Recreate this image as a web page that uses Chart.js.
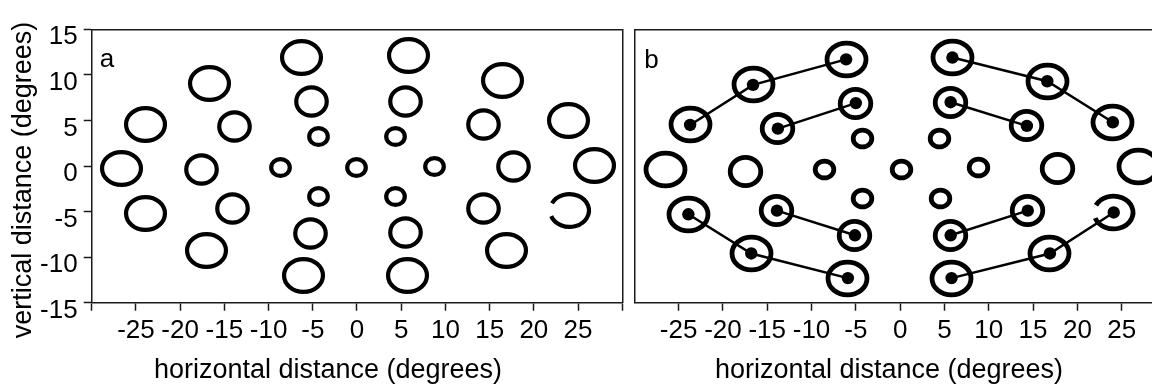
<!DOCTYPE html>
<html>
<head>
<meta charset="utf-8">
<script src="https://cdn.jsdelivr.net/npm/chart.js@4.4.1/dist/chart.umd.min.js"></script>
<style>
  html, body { margin: 0; padding: 0; background: #fff; }
  body { position: relative; width: 1152px; height: 385px; overflow: hidden; }
  #panelA { position: absolute; left: 0; top: -25px; }
  #panelB { position: absolute; left: 612px; top: 0; }
</style>
</head>
<body>
<canvas id="panelA" width="656" height="410"></canvas>
<canvas id="panelB" width="554" height="385"></canvas>
<script>
// ---- Stimulus layout, panel a: ring centres (degrees) and size class ----
const aX = [-6.3, -16.7, -23.9, -13.9, -26.6, -17.6, -8.7, -5.2, -4.4, -0.1, 5.8, 5.5, 4.3, 8.8, 16.5, 14.3, 23.9, 17.7, 26.9, -23.9, -14.1, -17.0, -6.0, -5.3, -4.4, 4.4, 5.5, 5.7, 14.3, 16.9, 24.0];
const aY = [11.9, 9.1, 4.6, 4.3, -0.3, -0.4, -0.2, 7.1, 3.2, -0.2, 12.1, 7.1, 3.2, 0.0, 9.4, 4.6, 5.0, -0.1, 0.1, -5.2, -4.7, -9.3, -12.0, -7.4, -3.4, -3.4, -7.3, -12.0, -4.7, -9.3, -4.9];
const aSize = ['L','L','L','M','L','M','S','M','S','S','L','M','S','S','L','M','L','M','L','L','M','L','L','M','S','S','M','L','M','L','L'];
const aOpen = [30];

// ---- Panel b: ring centres, size class, and the linked target paths ----
const bX = [-6.1, -16.6, -23.7, -13.8, -5.0, -4.3, -26.5, -17.4, -8.5, 5.9, 16.6, 24.0, 5.7, 14.3, 4.4, 0.1, 8.8, 17.8, 26.9, -23.9, -13.9, -16.8, -5.1, -5.9, -4.3, 4.5, 5.7, 5.8, 14.4, 16.9, 24.1];
const bY = [11.7, 8.9, 4.5, 4.1, 6.9, 3.0, -0.4, -0.6, -0.4, 11.9, 9.3, 4.8, 7.0, 4.4, 3.0, -0.4, -0.2, -0.3, 0.0, -5.3, -4.9, -9.6, -7.6, -12.3, -3.6, -3.6, -7.6, -12.3, -4.9, -9.6, -5.1];
const bSize = ['L','L','L','M','M','S','L','M','S','L','L','L','M','M','S','S','S','M','L','L','M','L','M','L','S','S','M','L','M','L','L'];
const bOpen = [30];
const bPaths = [[0, 1, 2], [4, 3], [9, 10, 11], [12, 13], [19, 21, 23], [20, 22], [27, 29, 30], [26, 28]];

// Ring extent (degrees) per size class
const sizeW = { S: 2.1, M: 3.45, L: 4.4 };
const sizeH = { S: 1.85, M: 3.1, L: 3.6 };

// Axis tick labels
const xTickLabels = [-25, -20, -15, -10, -5, 0, 5, 10, 15, 20, 25];
const yTickLabels = [-15, -10, -5, 0, 5, 10, 15];

// ---- Drawing helpers ----
const FONT = '"Liberation Sans", Arial, Helvetica, sans-serif';
Chart.defaults.font.family = FONT;
Chart.defaults.color = '#000';
const AXIS = '#1a1a1a';
const GAP_FROM = 160, GAP_TO = 206;   // opening of the broken ring (canvas degrees)

const ringCache = new Map();
function ringImage(wPx, hPx, lw, open) {
  const key = wPx.toFixed(2) + '|' + hPx.toFixed(2) + '|' + lw + '|' + (open ? 1 : 0);
  if (ringCache.has(key)) return ringCache.get(key);
  const pad = Math.ceil(lw / 2) + 2;
  const c = document.createElement('canvas');
  c.width = Math.ceil(wPx) + 2 * pad;
  c.height = Math.ceil(hPx) + 2 * pad;
  const g = c.getContext('2d');
  g.strokeStyle = '#000';
  g.lineWidth = lw;
  g.beginPath();
  const a0 = open ? GAP_TO * Math.PI / 180 : 0;
  const a1 = open ? (GAP_FROM + 360) * Math.PI / 180 : 2 * Math.PI;
  g.ellipse(c.width / 2, c.height / 2, wPx / 2, hPx / 2, 0, a0, a1);
  g.stroke();
  ringCache.set(key, c);
  return c;
}

// Ring outline scaled from degrees to pixels through the chart's own scales
function ringStyle(lw) {
  return (ctx) => {
    if (ctx.type !== 'data' || !ctx.raw) return 'circle';
    const sx = ctx.chart.scales.x, sy = ctx.chart.scales.y;
    const kx = Math.abs(sx.getPixelForValue(1) - sx.getPixelForValue(0));
    const ky = Math.abs(sy.getPixelForValue(1) - sy.getPixelForValue(0));
    const r = ctx.raw;
    return ringImage(sizeW[r.size] * kx, sizeH[r.size] * ky, lw, r.open);
  };
}

function ringPoints(xs, ys, sizes, open) {
  return xs.map((x, i) => ({ x, y: ys[i], size: sizes[i], open: open.includes(i) }));
}

// Panel letter in the upper-left corner of the plot area; keeps ring
// sprites sharp when they land on sub-pixel positions.
const panelLetter = {
  id: 'panelLetter',
  beforeDatasetsDraw(chart) {
    chart.ctx.imageSmoothingEnabled = false;
  },
  afterDatasetsDraw(chart) {
    chart.ctx.imageSmoothingEnabled = true;
  },
  afterDraw(chart, args, opts) {
    const { ctx, chartArea } = chart;
    ctx.save();
    ctx.font = '26px ' + FONT;
    ctx.fillStyle = '#000';
    ctx.textBaseline = 'alphabetic';
    ctx.fillText(opts.text, chartArea.left + opts.dx, chartArea.top + opts.dy);
    ctx.restore();
  }
};

// Fix an axis box size and drop the edge padding reserved for labels
const fixed = (prop, px) => (scale) => {
  scale[prop] = px;
  scale.paddingLeft = 0; scale.paddingRight = 0;
  scale.paddingTop = 0; scale.paddingBottom = 0;
};

function xAxis(height, hideFirstTick) {
  return {
    type: 'linear', position: 'bottom', min: -30, max: 30,
    afterFit: fixed('height', height),
    border: { display: true, color: AXIS, width: 1.5 },
    grid: {
      drawOnChartArea: false, drawTicks: true, tickLength: 8, tickWidth: 1.5,
      tickColor: (c) => (hideFirstTick && c.tick && c.tick.value === -30) ? 'rgba(0,0,0,0)' : AXIS
    },
    ticks: {
      stepSize: 5, autoSkip: false, maxRotation: 0, minRotation: 0, padding: 5,
      color: '#000', font: { size: 26 },
      callback: (v) => xTickLabels.includes(v) ? String(v) : ''
    }
  };
}

function frameAxis(position, prop, px) {
  return {
    type: 'linear', position,
    afterFit: fixed(prop, px),
    border: { display: true, color: AXIS, width: 1.5 },
    grid: { drawOnChartArea: false, drawTicks: false },
    ticks: { display: false }
  };
}

const common = {
  responsive: false,
  animation: false,
  events: [],
  layout: { padding: 0, autoPadding: false }
};

// ---- Panel a ----
new Chart(document.getElementById('panelA'), {
  type: 'scatter',
  data: {
    datasets: [{
      data: ringPoints(aX, aY, aSize, aOpen),
      pointStyle: ringStyle(4.2),
      pointRadius: 12,
      clip: false
    }]
  },
  options: Object.assign({}, common, {
    scales: {
      x: xAxis(52.6, false),
      y: {
        type: 'linear', position: 'left', min: -15, max: 15,
        afterFit: fixed('width', 51.9),
        border: { display: true, color: AXIS, width: 1.5 },
        grid: { drawOnChartArea: false, drawTicks: true, tickLength: 8, tickWidth: 1.5, tickColor: AXIS },
        ticks: {
          stepSize: 5, padding: 6, labelOffset: 8, color: '#000', font: { size: 26 },
          callback: (v) => yTickLabels.includes(v) ? String(v) : ''
        }
      },
      x2: frameAxis('top', 'height', 54.3),
      y2: frameAxis('right', 'width', 33.7)
    },
    plugins: {
      legend: { display: false },
      tooltip: { enabled: false },
      title: {
        display: true, position: 'left', text: 'vertical distance (degrees)',
        color: '#000', font: { size: 27, weight: 'normal' },
        padding: { top: 7.4, bottom: 0 }
      },
      subtitle: {
        display: true, position: 'bottom', text: 'horizontal distance (degrees)',
        color: '#000', font: { size: 27, weight: 'normal', lineHeight: 1.1 },
        padding: 0
      },
      panelLetter: { text: 'a', dx: 8, dy: 38 }
    }
  }),
  plugins: [panelLetter]
});

// ---- Panel b ----
const bRings = ringPoints(bX, bY, bSize, bOpen);
const pathSets = bPaths.map((path) => ({
  type: 'scatter',
  showLine: true,
  data: path.map((i) => ({ x: bX[i], y: bY[i] })),
  borderColor: '#000',
  borderWidth: 2.5,
  pointStyle: 'circle',
  pointRadius: 6.2,
  pointBorderWidth: 0,
  pointBackgroundColor: '#000',
  clip: false
}));

new Chart(document.getElementById('panelB'), {
  type: 'scatter',
  data: {
    datasets: [{
      data: bRings,
      pointStyle: ringStyle(4.8),
      pointRadius: 12,
      clip: false
    }].concat(pathSets)
  },
  options: Object.assign({}, common, {
    scales: {
      x: xAxis(52.6, true),
      y: {
        type: 'linear', position: 'left', min: -15, max: 15,
        afterFit: fixed('width', 22.3),
        border: { display: true, color: AXIS, width: 1.5 },
        grid: { drawOnChartArea: false, drawTicks: false },
        ticks: { display: false, stepSize: 5 }
      },
      x2: frameAxis('top', 'height', 29.3)
    },
    plugins: {
      legend: { display: false },
      tooltip: { enabled: false },
      title: { display: false },
      subtitle: {
        display: true, position: 'bottom', text: 'horizontal distance (degrees)',
        color: '#000', font: { size: 27, weight: 'normal', lineHeight: 1.1 },
        padding: 0
      },
      panelLetter: { text: 'b', dx: 10, dy: 39 }
    }
  }),
  plugins: [panelLetter]
});
</script>
</body>
</html>
